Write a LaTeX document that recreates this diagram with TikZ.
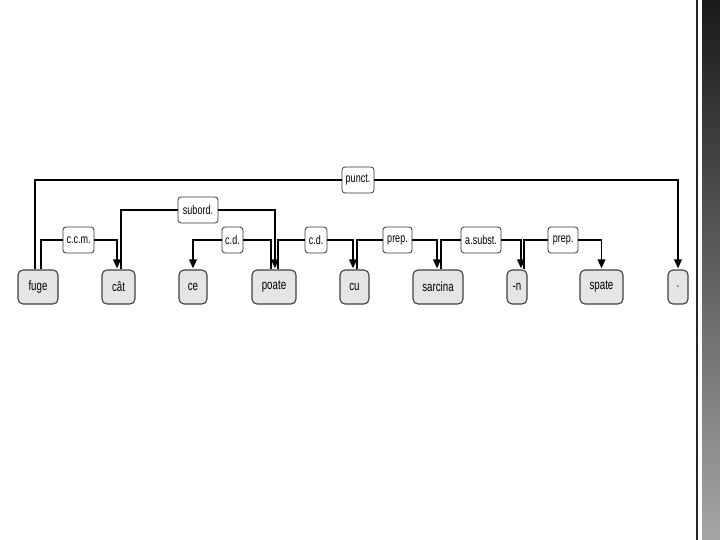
\documentclass[tikz,border=0pt]{standalone}
\usepackage{fontspec}
\newfontfamily\treefont[FakeStretch=0.72]{Liberation Sans}
\usetikzlibrary{arrows.meta}
\tikzset{
    word/.style={
        rectangle,
        rounded corners=5pt,
        draw=black!75,
        fill=black!10,
        line width=1.1pt,
        minimum width=#1pt,
        minimum height=34pt,
        inner sep=0pt,
        font=\treefont\fontsize{13.5}{15}\selectfont
    },
    rel/.style={
        rectangle,
        rounded corners=3pt,
        draw=black!80,
        fill=white,
        line width=0.8pt,
        minimum width=#1pt,
        minimum height=26pt,
        inner sep=0pt,
        font=\treefont\fontsize{12.5}{14}\selectfont
    },
    arc/.style={
        line width=1.9pt,
        black
    },
    arcend/.style={
        arc,
        -{Triangle[width=7.5pt,length=9pt]},
        shorten >=1pt
    }
}
\begin{document}
\begin{tikzpicture}[x=1pt, y=-1pt]
    \useasboundingbox (0,0) rectangle (720,540);
    % slide border on the right
    \fill[black!85] (696,0) rectangle (698,540);
    \shade[top color=black!90, bottom color=black!35] (702,0) rectangle (720,540);
    % words
    \foreach \name/\x/\w/\txt in {fuge/38/40/fuge, cat/118.5/33/cât, ce/193/28/ce, poate/274/44/poate, cu/354.5/29/cu, sarcina/438/50/sarcina, n/517/20/-n, spate/601.5/43/spate, dot/678/20/.} {
        \node[word=\w] (\name) at (\x,287) {\txt};
    }
    % relations
    \foreach \name/\x/\y/\w/\txt in {ccm/78.5/240/31/c.c.m., subord/198/210/40/subord., cdA/232.5/240/21/c.d., cdB/316/240/22/c.d., prepA/397.5/240/29/prep., asubst/481/240/40/a.subst., prepB/563/240/30/prep., punct/358/180/32/punct.} {
        \node[rel=\w] (\name) at (\x,\y) {\txt};
    }
    % arcs: head -> dependent
    \draw[arcend] ([xshift=-3pt]fuge.north) |- (punct) -| (dot.north);
    \draw[arcend] ([xshift=3pt]fuge.north) |- (ccm) -| ([xshift=-1.5pt]cat.north);
    \draw[arcend] ([xshift=2.5pt]cat.north) |- (subord) -| ([xshift=1pt]poate.north);
    \draw[arcend] ([xshift=-3pt]poate.north) |- (cdA) -| (ce.north);
    \draw[arcend] ([xshift=4pt]poate.north) |- (cdB) -| ([xshift=-1.5pt]cu.north);
    \draw[arcend] ([xshift=2.5pt]cu.north) |- (prepA) -| ([xshift=-1pt]sarcina.north);
    \draw[arcend] ([xshift=3pt]sarcina.north) |- (asubst) -| ([xshift=4pt]n.north);
    \draw[arcend] ([xshift=7pt]n.north) |- (prepB) -| (spate.north);
\end{tikzpicture}
\end{document}
